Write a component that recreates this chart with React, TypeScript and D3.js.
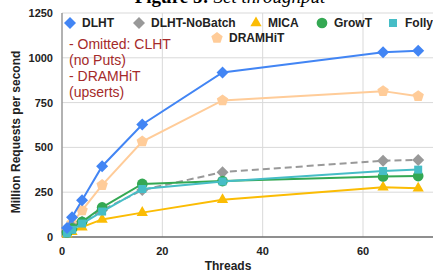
import React from "react";
import * as d3 from "d3";

const threads = [1, 2, 4, 8, 16, 32, 64, 71];
const dlht = [50, 110, 205, 395, 628, 918, 1031, 1040];
const dlhtNoBatch = [30, 60, 85, 150, 262, 362, 426, 430];
const mica = [15, 30, 55, 98, 136, 208, 278, 272];
const growT = [25, 48, 85, 165, 296, 312, 338, 340];
const folly = [20, 40, 75, 142, 268, 310, 368, 376];
const dramhit = [40, 78, 148, 290, 533, 762, 814, 786];
const yTicks = [0, 250, 500, 750, 1000, 1250];
const xTicks = [0, 20, 40, 60];
const notes = ["- Omitted: CLHT", "(no Puts)", "- DRAMHiT", "(upserts)"];

type S = { name: string; values: number[]; color: string; shape: string; dashed?: boolean };
const series: S[] = [
  { name: "DRAMHiT", values: dramhit, color: "#FFCC99", shape: "pentagon" },
  { name: "DLHT-NoBatch", values: dlhtNoBatch, color: "#999999", shape: "diamond", dashed: true },
  { name: "MICA", values: mica, color: "#FBBC04", shape: "triangle" },
  { name: "GrowT", values: growT, color: "#34A853", shape: "circle" },
  { name: "Folly", values: folly, color: "#46BDC6", shape: "square" },
  { name: "DLHT", values: dlht, color: "#4285F4", shape: "diamond" },
];

const symbolFor = (shape: string) => {
  if (shape === "diamond") {
    const r = 6;
    return `M0,${-r}L${r},0L0,${r}L${-r},0Z`;
  }
  if (shape === "triangle") return d3.symbol(d3.symbolTriangle, 55)();
  if (shape === "circle") return d3.symbol(d3.symbolCircle, 90)();
  if (shape === "square") return d3.symbol(d3.symbolSquare, 64)();
  const r = 6;
  const pts = d3.range(5).map((i) => {
    const a = -Math.PI / 2 + (i * 2 * Math.PI) / 5;
    return [r * Math.cos(a), r * Math.sin(a)];
  });
  return "M" + pts.map((p) => p.join(",")).join("L") + "Z";
};

const legendItems = [
  { name: "DLHT", x: 70, y: 23 },
  { name: "DLHT-NoBatch", x: 139, y: 23 },
  { name: "MICA", x: 256, y: 23 },
  { name: "GrowT", x: 322, y: 23 },
  { name: "Folly", x: 393, y: 23 },
  { name: "DRAMHiT", x: 217, y: 38 },
];

export default function App() {
  const W = 433, H = 274;
  const x = d3.scaleLinear().domain([0, 60]).range([62, 363]);
  const y = d3.scaleLinear().domain([0, 1250]).range([237, 13]);
  const line = d3
    .line<number>()
    .x((_, i) => x(threads[i]))
    .y((v) => y(v));
  const font = "Arial, 'Liberation Sans', sans-serif";
  return (
    <svg width={W} height={H} style={{ position: "absolute", left: 0, top: 0 }}>
      <rect width={W} height={H} fill="#fff" />
      <text x={230} y={3} textAnchor="middle" fontFamily="'Liberation Serif', 'DejaVu Serif', serif" fontSize={19} fill="#000">
        <tspan fontWeight="bold">Figure 5:</tspan>
        <tspan fontStyle="italic"> Set throughput</tspan>
      </text>
      {yTicks.map((t) => (
        <g key={"y" + t}>
          <line x1={62} x2={W} y1={y(t)} y2={y(t)} stroke="#d9d9d9" strokeWidth={1} />
          <text x={53} y={y(t) + 4} textAnchor="end" fontFamily={font} fontSize={11} fontWeight="bold" fill="#222">
            {t}
          </text>
        </g>
      ))}
      {xTicks.map((t) => (
        <g key={"x" + t}>
          {t > 0 && <line x1={x(t)} x2={x(t)} y1={13} y2={237} stroke="#d9d9d9" strokeWidth={1} />}
          <text x={x(t)} y={255} textAnchor="middle" fontFamily={font} fontSize={11} fontWeight="bold" fill="#222">
            {t}
          </text>
        </g>
      ))}
      <line x1={62} x2={62} y1={13} y2={237} stroke="#999" strokeWidth={1.5} />
      <line x1={62} x2={W} y1={237} y2={237} stroke="#333" strokeWidth={1} />
      <text x={228} y={270} textAnchor="middle" fontFamily={font} fontSize={12} fontWeight="bold" fill="#222">
        Threads
      </text>
      <text
        transform={`translate(20,132) rotate(-90)`}
        textAnchor="middle"
        fontFamily={font}
        fontSize={12}
        fontWeight="bold"
        fill="#222"
      >
        Million Requests per second
      </text>
      {notes.map((n, i) => (
        <text key={n} x={69} y={49 + i * 16} fontFamily={font} fontSize={14} fill="#A52A2A">
          {n}
        </text>
      ))}
      {series.map((s) => (
        <g key={s.name}>
          <path
            d={line(s.values) || ""}
            fill="none"
            stroke={s.color}
            strokeWidth={2}
            strokeDasharray={s.dashed ? "7,4" : undefined}
          />
          {s.values.map((v, i) => (
            <path key={i} d={symbolFor(s.shape)} transform={`translate(${x(threads[i])},${y(v)})`} fill={s.color} />
          ))}
        </g>
      ))}
      {legendItems.map((l) => {
        const s = series.find((q) => q.name === l.name)!;
        return (
          <g key={l.name}>
            <path d={symbolFor(s.shape)} transform={`translate(${l.x},${l.y})`} fill={s.color} />
            <text x={l.x + 12} y={l.y + 4} fontFamily={font} fontSize={12} fontWeight="bold" fill="#222">
              {l.name}
            </text>
          </g>
        );
      })}
    </svg>
  );
}
